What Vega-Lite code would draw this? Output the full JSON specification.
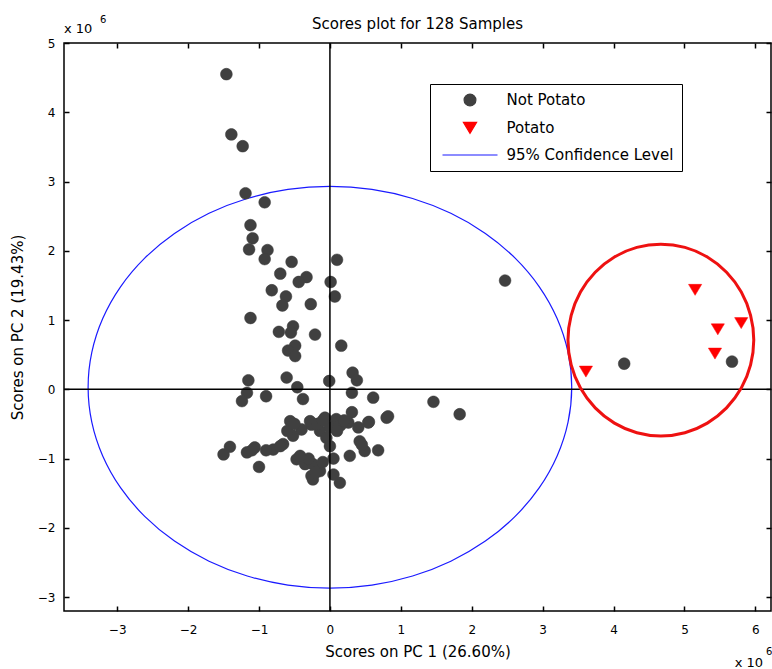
{
  "$schema": "https://vega.github.io/schema/vega-lite/v6.json",
  "width": 707,
  "height": 568,
  "autosize": {"type": "none"},
  "padding": {"left": 64, "top": 43, "right": 1, "bottom": 58},
  "background": "white",
  "title": {"text": "Scores plot for 128 Samples", "fontSize": 15, "fontWeight": "normal", "color": "black", "offset": -29, "anchor": "middle", "baseline": "alphabetic"},
  "config": {
    "font": "DejaVu Sans",
    "view": {"stroke": "black", "strokeWidth": 1.5},
    "axis": {"labelFontSize": 12, "labelColor": "black", "titleFontSize": 15, "titleFontWeight": "normal", "titleColor": "black", "tickColor": "black", "tickWidth": 1.5, "grid": false, "domain": false}
  },
  "datasets": {
    "scores": [
      {"pc1": -1.46, "pc2": 4.55, "class": "Not Potato"},
      {"pc1": -1.39, "pc2": 3.68, "class": "Not Potato"},
      {"pc1": -1.23, "pc2": 3.51, "class": "Not Potato"},
      {"pc1": -1.19, "pc2": 2.83, "class": "Not Potato"},
      {"pc1": -0.92, "pc2": 2.70, "class": "Not Potato"},
      {"pc1": -1.12, "pc2": 2.37, "class": "Not Potato"},
      {"pc1": -1.09, "pc2": 2.18, "class": "Not Potato"},
      {"pc1": -1.14, "pc2": 2.02, "class": "Not Potato"},
      {"pc1": -0.88, "pc2": 2.01, "class": "Not Potato"},
      {"pc1": -0.92, "pc2": 1.88, "class": "Not Potato"},
      {"pc1": -0.54, "pc2": 1.84, "class": "Not Potato"},
      {"pc1": 0.10, "pc2": 1.87, "class": "Not Potato"},
      {"pc1": -0.70, "pc2": 1.67, "class": "Not Potato"},
      {"pc1": -0.33, "pc2": 1.62, "class": "Not Potato"},
      {"pc1": -0.44, "pc2": 1.55, "class": "Not Potato"},
      {"pc1": 0.01, "pc2": 1.55, "class": "Not Potato"},
      {"pc1": -0.82, "pc2": 1.43, "class": "Not Potato"},
      {"pc1": -0.62, "pc2": 1.34, "class": "Not Potato"},
      {"pc1": 0.07, "pc2": 1.34, "class": "Not Potato"},
      {"pc1": -0.67, "pc2": 1.21, "class": "Not Potato"},
      {"pc1": -0.27, "pc2": 1.23, "class": "Not Potato"},
      {"pc1": -1.12, "pc2": 1.03, "class": "Not Potato"},
      {"pc1": -0.72, "pc2": 0.83, "class": "Not Potato"},
      {"pc1": -0.52, "pc2": 0.91, "class": "Not Potato"},
      {"pc1": -0.55, "pc2": 0.82, "class": "Not Potato"},
      {"pc1": -0.21, "pc2": 0.79, "class": "Not Potato"},
      {"pc1": -0.49, "pc2": 0.63, "class": "Not Potato"},
      {"pc1": -0.59, "pc2": 0.56, "class": "Not Potato"},
      {"pc1": -0.49, "pc2": 0.48, "class": "Not Potato"},
      {"pc1": 0.16, "pc2": 0.63, "class": "Not Potato"},
      {"pc1": -1.15, "pc2": 0.13, "class": "Not Potato"},
      {"pc1": -0.61, "pc2": 0.17, "class": "Not Potato"},
      {"pc1": -0.01, "pc2": 0.12, "class": "Not Potato"},
      {"pc1": 0.32, "pc2": 0.24, "class": "Not Potato"},
      {"pc1": 0.38, "pc2": 0.13, "class": "Not Potato"},
      {"pc1": -0.46, "pc2": 0.03, "class": "Not Potato"},
      {"pc1": -0.38, "pc2": -0.14, "class": "Not Potato"},
      {"pc1": -1.17, "pc2": -0.05, "class": "Not Potato"},
      {"pc1": -1.24, "pc2": -0.17, "class": "Not Potato"},
      {"pc1": -0.90, "pc2": -0.10, "class": "Not Potato"},
      {"pc1": 0.31, "pc2": -0.05, "class": "Not Potato"},
      {"pc1": 0.61, "pc2": -0.12, "class": "Not Potato"},
      {"pc1": 0.82, "pc2": -0.39, "class": "Not Potato"},
      {"pc1": 0.55, "pc2": -0.47, "class": "Not Potato"},
      {"pc1": 0.31, "pc2": -0.33, "class": "Not Potato"},
      {"pc1": 2.47, "pc2": 1.57, "class": "Not Potato"},
      {"pc1": 1.46, "pc2": -0.18, "class": "Not Potato"},
      {"pc1": 1.83, "pc2": -0.36, "class": "Not Potato"},
      {"pc1": 4.15, "pc2": 0.37, "class": "Not Potato"},
      {"pc1": 5.67, "pc2": 0.40, "class": "Not Potato"},
      {"pc1": -1.50, "pc2": -0.94, "class": "Not Potato"},
      {"pc1": -1.41, "pc2": -0.83, "class": "Not Potato"},
      {"pc1": -1.17, "pc2": -0.91, "class": "Not Potato"},
      {"pc1": -1.06, "pc2": -0.84, "class": "Not Potato"},
      {"pc1": -1.00, "pc2": -1.12, "class": "Not Potato"},
      {"pc1": -0.80, "pc2": -0.87, "class": "Not Potato"},
      {"pc1": -0.66, "pc2": -0.79, "class": "Not Potato"},
      {"pc1": -0.56, "pc2": -0.46, "class": "Not Potato"},
      {"pc1": -0.52, "pc2": -0.67, "class": "Not Potato"},
      {"pc1": -0.40, "pc2": -0.58, "class": "Not Potato"},
      {"pc1": -0.47, "pc2": -1.01, "class": "Not Potato"},
      {"pc1": -0.35, "pc2": -1.08, "class": "Not Potato"},
      {"pc1": -0.26, "pc2": -1.25, "class": "Not Potato"},
      {"pc1": -0.26, "pc2": -0.51, "class": "Not Potato"},
      {"pc1": -0.28, "pc2": -0.46, "class": "Not Potato"},
      {"pc1": -0.07, "pc2": -0.41, "class": "Not Potato"},
      {"pc1": 0.09, "pc2": -0.43, "class": "Not Potato"},
      {"pc1": 0.26, "pc2": -0.48, "class": "Not Potato"},
      {"pc1": 0.54, "pc2": -0.48, "class": "Not Potato"},
      {"pc1": 0.80, "pc2": -0.41, "class": "Not Potato"},
      {"pc1": 0.00, "pc2": -0.82, "class": "Not Potato"},
      {"pc1": 0.42, "pc2": -0.75, "class": "Not Potato"},
      {"pc1": 0.49, "pc2": -0.89, "class": "Not Potato"},
      {"pc1": 0.68, "pc2": -0.88, "class": "Not Potato"},
      {"pc1": 0.28, "pc2": -0.96, "class": "Not Potato"},
      {"pc1": -0.24, "pc2": -1.08, "class": "Not Potato"},
      {"pc1": -0.14, "pc2": -1.18, "class": "Not Potato"},
      {"pc1": -0.24, "pc2": -1.30, "class": "Not Potato"},
      {"pc1": 0.14, "pc2": -1.35, "class": "Not Potato"},
      {"pc1": 0.05, "pc2": -1.23, "class": "Not Potato"},
      {"pc1": -0.14, "pc2": -0.60, "class": "Not Potato"},
      {"pc1": -0.60, "pc2": -0.60, "class": "Not Potato"},
      {"pc1": -0.70, "pc2": -0.82, "class": "Not Potato"},
      {"pc1": -0.50, "pc2": -0.50, "class": "Not Potato"},
      {"pc1": -0.18, "pc2": -0.50, "class": "Not Potato"},
      {"pc1": 0.00, "pc2": -0.55, "class": "Not Potato"},
      {"pc1": 0.15, "pc2": -0.52, "class": "Not Potato"},
      {"pc1": 0.20, "pc2": -0.45, "class": "Not Potato"},
      {"pc1": -0.05, "pc2": -0.70, "class": "Not Potato"},
      {"pc1": 0.05, "pc2": -1.00, "class": "Not Potato"},
      {"pc1": -0.10, "pc2": -1.05, "class": "Not Potato"},
      {"pc1": -0.30, "pc2": -1.00, "class": "Not Potato"},
      {"pc1": -0.42, "pc2": -0.96, "class": "Not Potato"},
      {"pc1": -0.20, "pc2": -1.20, "class": "Not Potato"},
      {"pc1": 0.10, "pc2": -0.60, "class": "Not Potato"},
      {"pc1": -0.10, "pc2": -0.45, "class": "Not Potato"},
      {"pc1": 0.40, "pc2": -0.55, "class": "Not Potato"},
      {"pc1": 0.45, "pc2": -0.80, "class": "Not Potato"},
      {"pc1": -0.90, "pc2": -0.88, "class": "Not Potato"},
      {"pc1": -1.10, "pc2": -0.88, "class": "Not Potato"},
      {"pc1": 3.61, "pc2": 0.26, "class": "Potato"},
      {"pc1": 5.15, "pc2": 1.44, "class": "Potato"},
      {"pc1": 5.47, "pc2": 0.87, "class": "Potato"},
      {"pc1": 5.80, "pc2": 0.96, "class": "Potato"},
      {"pc1": 5.43, "pc2": 0.52, "class": "Potato"}
    ],
    "ellipse": [
      {"i": 0, "x": 3.41, "y": 0.03}, {"i": 1, "x": 3.358, "y": 0.533}, {"i": 2, "x": 3.204, "y": 1.022},
      {"i": 3, "x": 2.953, "y": 1.48}, {"i": 4, "x": 2.612, "y": 1.894}, {"i": 5, "x": 2.192, "y": 2.251},
      {"i": 6, "x": 1.705, "y": 2.541}, {"i": 7, "x": 1.166, "y": 2.755}, {"i": 8, "x": 0.592, "y": 2.886},
      {"i": 9, "x": 0, "y": 2.93}, {"i": 10, "x": -0.592, "y": 2.886}, {"i": 11, "x": -1.166, "y": 2.755},
      {"i": 12, "x": -1.705, "y": 2.541}, {"i": 13, "x": -2.192, "y": 2.251}, {"i": 14, "x": -2.612, "y": 1.894},
      {"i": 15, "x": -2.953, "y": 1.48}, {"i": 16, "x": -3.204, "y": 1.022}, {"i": 17, "x": -3.358, "y": 0.533},
      {"i": 18, "x": -3.41, "y": 0.03}, {"i": 19, "x": -3.358, "y": -0.473}, {"i": 20, "x": -3.204, "y": -0.962},
      {"i": 21, "x": -2.953, "y": -1.42}, {"i": 22, "x": -2.612, "y": -1.834}, {"i": 23, "x": -2.192, "y": -2.191},
      {"i": 24, "x": -1.705, "y": -2.481}, {"i": 25, "x": -1.166, "y": -2.695}, {"i": 26, "x": -0.592, "y": -2.826},
      {"i": 27, "x": 0, "y": -2.87}, {"i": 28, "x": 0.592, "y": -2.826}, {"i": 29, "x": 1.166, "y": -2.695},
      {"i": 30, "x": 1.705, "y": -2.481}, {"i": 31, "x": 2.192, "y": -2.191}, {"i": 32, "x": 2.612, "y": -1.834},
      {"i": 33, "x": 2.953, "y": -1.42}, {"i": 34, "x": 3.204, "y": -0.962}, {"i": 35, "x": 3.358, "y": -0.473}
    ],
    "annot": [
      {"i": 0, "x": 5.977, "y": 0.711}, {"i": 1, "x": 5.932, "y": 1.069}, {"i": 2, "x": 5.801, "y": 1.404},
      {"i": 3, "x": 5.593, "y": 1.690}, {"i": 4, "x": 5.322, "y": 1.910}, {"i": 5, "x": 5.006, "y": 2.049},
      {"i": 6, "x": 4.667, "y": 2.096}, {"i": 7, "x": 4.328, "y": 2.049}, {"i": 8, "x": 4.012, "y": 1.910},
      {"i": 9, "x": 3.741, "y": 1.690}, {"i": 10, "x": 3.533, "y": 1.404}, {"i": 11, "x": 3.402, "y": 1.069},
      {"i": 12, "x": 3.357, "y": 0.711}, {"i": 13, "x": 3.402, "y": 0.353}, {"i": 14, "x": 3.533, "y": 0.018},
      {"i": 15, "x": 3.741, "y": -0.268}, {"i": 16, "x": 4.012, "y": -0.488}, {"i": 17, "x": 4.328, "y": -0.627},
      {"i": 18, "x": 4.667, "y": -0.674}, {"i": 19, "x": 5.006, "y": -0.627}, {"i": 20, "x": 5.322, "y": -0.488},
      {"i": 21, "x": 5.593, "y": -0.268}, {"i": 22, "x": 5.801, "y": 0.018}, {"i": 23, "x": 5.932, "y": 0.353}
    ]
  },
  "resolve": {"axis": {"x": "independent", "y": "independent"}},
  "layer": [
    {
      "data": {"name": "ellipse"},
      "mark": {"type": "line", "interpolate": "cardinal-closed", "color": "#1a1aff", "strokeWidth": 1.2},
      "encoding": {
        "x": {"field": "x", "type": "quantitative", "scale": {"domain": [-3.75, 6.22], "nice": false, "zero": false}, "axis": null},
        "y": {"field": "y", "type": "quantitative", "scale": {"domain": [-3.2, 5.0], "nice": false, "zero": false}, "axis": null},
        "order": {"field": "i", "type": "quantitative"}
      }
    },
    {
      "data": {"name": "scores"},
      "mark": {"type": "point", "filled": true, "opacity": 1, "size": 3025, "strokeWidth": 0.5},
      "encoding": {
        "x": {"field": "pc1", "type": "quantitative", "scale": {"domain": [-3.75, 6.22], "nice": false, "zero": false},
          "axis": {"orient": "bottom", "values": [-3, -2, -1, 0, 1, 2, 3, 4, 5, 6], "offset": -5, "tickSize": 5, "labelPadding": 13, "title": "Scores on PC 1 (26.60%)", "titlePadding": 9}},
        "y": {"field": "pc2", "type": "quantitative", "scale": {"domain": [-3.2, 5.0], "nice": false, "zero": false},
          "axis": {"orient": "left", "values": [-3, -2, -1, 0, 1, 2, 3, 4, 5], "offset": -5, "tickSize": 5, "labelPadding": 9, "title": "Scores on PC 2 (19.43%)", "titlePadding": 12}},
        "color": {"field": "class", "type": "nominal",
          "scale": {"domain": ["Not Potato", "Potato", "95% Confidence Level"], "range": ["#404040", "#ff0000", "#1a1aff"]},
          "legend": {"orient": "none", "legendX": 366, "legendY": 41, "title": null, "strokeColor": "black", "fillColor": "white", "padding": 8, "labelFontSize": 15, "labelColor": "black", "labelLimit": 400, "rowPadding": 11.5, "labelOffset": 8, "symbolOffset": 3.5, "symbolSize": 3025, "symbolStrokeWidth": 1.2, "clipHeight": 16,
            "encode": {"symbols": {"stroke": {"condition": {"test": "datum.value === '95% Confidence Level'", "value": "#1a1aff"}, "value": "transparent"}}}}},
        "stroke": {"field": "class", "type": "nominal",
          "scale": {"domain": ["Not Potato", "Potato", "95% Confidence Level"], "range": ["#404040", "#ff0000", "#1a1aff"]},
          "legend": {"orient": "none", "legendX": 366, "legendY": 41, "title": null, "strokeColor": "black", "fillColor": "white", "padding": 8, "labelFontSize": 15, "labelColor": "black", "labelLimit": 400, "rowPadding": 11.5, "labelOffset": 8, "symbolOffset": 3.5, "symbolSize": 3025, "symbolStrokeWidth": 1.2, "clipHeight": 16,
            "encode": {"symbols": {"stroke": {"condition": {"test": "datum.value === '95% Confidence Level'", "value": "#1a1aff"}, "value": "transparent"}}}}},
        "shape": {"field": "class", "type": "nominal",
          "scale": {"domain": ["Not Potato", "Potato", "95% Confidence Level"], "range": ["M -0.215 0 A 0.215 0.215 0 1 0 0.215 0 A 0.215 0.215 0 1 0 -0.215 0 Z", "M -0.24 -0.19 L 0.24 -0.19 L 0 0.21 Z", "M -1 0 L 1 0"]},
          "legend": {"orient": "none", "legendX": 366, "legendY": 41, "title": null, "strokeColor": "black", "fillColor": "white", "padding": 8, "labelFontSize": 15, "labelColor": "black", "labelLimit": 400, "rowPadding": 11.5, "labelOffset": 8, "symbolOffset": 3.5, "symbolSize": 3025, "symbolStrokeWidth": 1.2, "clipHeight": 16,
            "encode": {"symbols": {"stroke": {"condition": {"test": "datum.value === '95% Confidence Level'", "value": "#1a1aff"}, "value": "transparent"}}}}}
      }
    },
    {
      "data": {"values": [{}]},
      "mark": {"type": "rule", "color": "black", "strokeWidth": 1.5},
      "encoding": {"x": {"datum": 0, "type": "quantitative", "axis": null}}
    },
    {
      "data": {"values": [{}]},
      "mark": {"type": "rule", "color": "black", "strokeWidth": 1.5},
      "encoding": {"y": {"datum": 0, "type": "quantitative", "axis": null}}
    },
    {
      "data": {"name": "annot"},
      "mark": {"type": "line", "interpolate": "cardinal-closed", "color": "#ee1111", "strokeWidth": 3},
      "encoding": {
        "x": {"field": "x", "type": "quantitative", "scale": {"domain": [-3.75, 6.22], "nice": false, "zero": false},
          "axis": {"orient": "top", "values": [-3, -2, -1, 0, 1, 2, 3, 4, 5, 6], "offset": -5, "tickSize": 5, "labels": false, "title": null}},
        "y": {"field": "y", "type": "quantitative", "scale": {"domain": [-3.2, 5.0], "nice": false, "zero": false},
          "axis": {"orient": "right", "values": [-3, -2, -1, 0, 1, 2, 3, 4, 5], "offset": -5, "tickSize": 5, "labels": false, "title": null}},
        "order": {"field": "i", "type": "quantitative"}
      }
    },
    {
      "data": {"values": [{}]},
      "mark": {"type": "text", "align": "left", "baseline": "alphabetic", "fontSize": 13, "color": "black", "dx": 0, "dy": -10},
      "encoding": {"x": {"datum": -3.75, "type": "quantitative", "axis": null}, "y": {"datum": 5.0, "type": "quantitative", "axis": null}, "text": {"value": "x 10"}}
    },
    {
      "data": {"values": [{}]},
      "mark": {"type": "text", "align": "left", "baseline": "alphabetic", "fontSize": 10, "color": "black", "dx": 36, "dy": -20},
      "encoding": {"x": {"datum": -3.75, "type": "quantitative", "axis": null}, "y": {"datum": 5.0, "type": "quantitative", "axis": null}, "text": {"value": "6"}}
    },
    {
      "data": {"values": [{}]},
      "mark": {"type": "text", "align": "right", "baseline": "alphabetic", "fontSize": 13, "color": "black", "dx": -8, "dy": 56},
      "encoding": {"x": {"datum": 6.22, "type": "quantitative", "axis": null}, "y": {"datum": -3.2, "type": "quantitative", "axis": null}, "text": {"value": "x 10"}}
    },
    {
      "data": {"values": [{}]},
      "mark": {"type": "text", "align": "left", "baseline": "alphabetic", "fontSize": 10, "color": "black", "dx": -5, "dy": 44},
      "encoding": {"x": {"datum": 6.22, "type": "quantitative", "axis": null}, "y": {"datum": -3.2, "type": "quantitative", "axis": null}, "text": {"value": "6"}}
    }
  ]
}
